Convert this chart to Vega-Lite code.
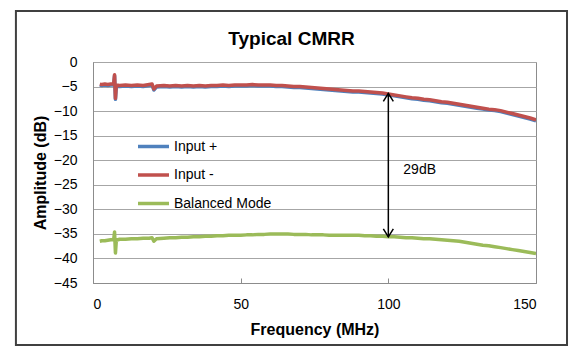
{
  "$schema": "https://vega.github.io/schema/vega-lite/v6.json",
  "width": 443,
  "height": 221,
  "autosize": {"type": "none"},
  "padding": {"left": 93, "top": 62, "right": 48, "bottom": 74},
  "background": "white",
  "title": {
    "text": "Typical CMRR",
    "font": "Liberation Sans",
    "fontSize": 19,
    "fontWeight": "bold",
    "color": "#000000",
    "anchor": "middle",
    "baseline": "alphabetic",
    "offset": -54,
    "dx": -23
  },
  "datasets": {
    "curves": [
      {"f": 2.3, "Input +": -4.7, "Input -": -4.5, "Balanced Mode": -36.5},
      {"f": 3, "Input +": -4.8, "Input -": -4.6, "Balanced Mode": -36.4},
      {"f": 4, "Input +": -4.7, "Input -": -4.5, "Balanced Mode": -36.4},
      {"f": 5, "Input +": -4.8, "Input -": -4.6, "Balanced Mode": -36.3},
      {"f": 6, "Input +": -4.7, "Input -": -4.5, "Balanced Mode": -36.2},
      {"f": 7, "Input +": -4.7, "Input -": -4.5, "Balanced Mode": -36.2},
      {"f": 7.3, "Input +": -2.8, "Input -": -2.6, "Balanced Mode": -34.6},
      {"f": 7.6, "Input +": -7.6, "Input -": -7.4, "Balanced Mode": -38.9},
      {"f": 7.9, "Input +": -4.9, "Input -": -4.7, "Balanced Mode": -36.3},
      {"f": 9, "Input +": -5.0, "Input -": -4.8, "Balanced Mode": -36.1},
      {"f": 11, "Input +": -4.9, "Input -": -4.7, "Balanced Mode": -36.1},
      {"f": 13, "Input +": -5.0, "Input -": -4.8, "Balanced Mode": -36.0},
      {"f": 15, "Input +": -4.9, "Input -": -4.7, "Balanced Mode": -36.0},
      {"f": 17, "Input +": -5.0, "Input -": -4.8, "Balanced Mode": -35.9},
      {"f": 19, "Input +": -4.8, "Input -": -4.6, "Balanced Mode": -35.9},
      {"f": 20, "Input +": -4.7, "Input -": -4.5, "Balanced Mode": -35.8},
      {"f": 20.6, "Input +": -5.7, "Input -": -5.5, "Balanced Mode": -36.5},
      {"f": 21.5, "Input +": -5.1, "Input -": -4.9, "Balanced Mode": -36.0},
      {"f": 24, "Input +": -5.0, "Input -": -4.8, "Balanced Mode": -35.9},
      {"f": 26, "Input +": -5.1, "Input -": -4.9, "Balanced Mode": -35.8},
      {"f": 28, "Input +": -5.0, "Input -": -4.8, "Balanced Mode": -35.8},
      {"f": 30, "Input +": -5.1, "Input -": -4.9, "Balanced Mode": -35.7},
      {"f": 32, "Input +": -5.0, "Input -": -4.8, "Balanced Mode": -35.7},
      {"f": 34, "Input +": -5.1, "Input -": -4.9, "Balanced Mode": -35.6},
      {"f": 36, "Input +": -5.0, "Input -": -4.8, "Balanced Mode": -35.6},
      {"f": 38, "Input +": -5.1, "Input -": -4.9, "Balanced Mode": -35.5},
      {"f": 40, "Input +": -5.0, "Input -": -4.8, "Balanced Mode": -35.5},
      {"f": 42, "Input +": -5.0, "Input -": -4.8, "Balanced Mode": -35.4},
      {"f": 44, "Input +": -4.9, "Input -": -4.7, "Balanced Mode": -35.4},
      {"f": 46, "Input +": -5.0, "Input -": -4.8, "Balanced Mode": -35.3},
      {"f": 48, "Input +": -4.9, "Input -": -4.7, "Balanced Mode": -35.3},
      {"f": 50, "Input +": -4.9, "Input -": -4.7, "Balanced Mode": -35.3},
      {"f": 52, "Input +": -4.9, "Input -": -4.7, "Balanced Mode": -35.2},
      {"f": 54, "Input +": -4.8, "Input -": -4.6, "Balanced Mode": -35.2},
      {"f": 56, "Input +": -4.9, "Input -": -4.7, "Balanced Mode": -35.1},
      {"f": 58, "Input +": -4.9, "Input -": -4.7, "Balanced Mode": -35.1},
      {"f": 60, "Input +": -4.9, "Input -": -4.7, "Balanced Mode": -35.0},
      {"f": 62, "Input +": -5.0, "Input -": -4.8, "Balanced Mode": -35.0},
      {"f": 64, "Input +": -5.0, "Input -": -4.8, "Balanced Mode": -35.0},
      {"f": 66, "Input +": -5.1, "Input -": -4.9, "Balanced Mode": -35.0},
      {"f": 68, "Input +": -5.2, "Input -": -5.0, "Balanced Mode": -35.1},
      {"f": 70, "Input +": -5.2, "Input -": -5.0, "Balanced Mode": -35.1},
      {"f": 72, "Input +": -5.3, "Input -": -5.1, "Balanced Mode": -35.1},
      {"f": 74, "Input +": -5.4, "Input -": -5.2, "Balanced Mode": -35.2},
      {"f": 76, "Input +": -5.5, "Input -": -5.3, "Balanced Mode": -35.2},
      {"f": 78, "Input +": -5.6, "Input -": -5.4, "Balanced Mode": -35.2},
      {"f": 80, "Input +": -5.7, "Input -": -5.5, "Balanced Mode": -35.3},
      {"f": 82, "Input +": -5.8, "Input -": -5.6, "Balanced Mode": -35.3},
      {"f": 84, "Input +": -5.9, "Input -": -5.7, "Balanced Mode": -35.3},
      {"f": 86, "Input +": -6.0, "Input -": -5.8, "Balanced Mode": -35.3},
      {"f": 88, "Input +": -6.1, "Input -": -5.9, "Balanced Mode": -35.3},
      {"f": 90, "Input +": -6.1, "Input -": -5.9, "Balanced Mode": -35.3},
      {"f": 92, "Input +": -6.2, "Input -": -6.0, "Balanced Mode": -35.4},
      {"f": 94, "Input +": -6.3, "Input -": -6.1, "Balanced Mode": -35.4},
      {"f": 96, "Input +": -6.4, "Input -": -6.2, "Balanced Mode": -35.5},
      {"f": 98, "Input +": -6.5, "Input -": -6.3, "Balanced Mode": -35.5},
      {"f": 100, "Input +": -6.7, "Input -": -6.5, "Balanced Mode": -35.6},
      {"f": 102, "Input +": -6.9, "Input -": -6.7, "Balanced Mode": -35.6},
      {"f": 104, "Input +": -7.1, "Input -": -6.9, "Balanced Mode": -35.7},
      {"f": 106, "Input +": -7.3, "Input -": -7.1, "Balanced Mode": -35.8},
      {"f": 108, "Input +": -7.5, "Input -": -7.3, "Balanced Mode": -35.8},
      {"f": 110, "Input +": -7.6, "Input -": -7.4, "Balanced Mode": -35.9},
      {"f": 112, "Input +": -7.8, "Input -": -7.6, "Balanced Mode": -36.0},
      {"f": 114, "Input +": -7.9, "Input -": -7.7, "Balanced Mode": -36.0},
      {"f": 116, "Input +": -8.1, "Input -": -7.9, "Balanced Mode": -36.1},
      {"f": 118, "Input +": -8.3, "Input -": -8.1, "Balanced Mode": -36.2},
      {"f": 120, "Input +": -8.4, "Input -": -8.2, "Balanced Mode": -36.3},
      {"f": 122, "Input +": -8.6, "Input -": -8.4, "Balanced Mode": -36.4},
      {"f": 124, "Input +": -8.8, "Input -": -8.6, "Balanced Mode": -36.5},
      {"f": 126, "Input +": -9.0, "Input -": -8.8, "Balanced Mode": -36.7},
      {"f": 128, "Input +": -9.2, "Input -": -9.0, "Balanced Mode": -36.9},
      {"f": 130, "Input +": -9.4, "Input -": -9.2, "Balanced Mode": -37.1},
      {"f": 132, "Input +": -9.6, "Input -": -9.4, "Balanced Mode": -37.3},
      {"f": 134, "Input +": -9.8, "Input -": -9.6, "Balanced Mode": -37.4},
      {"f": 136, "Input +": -9.9, "Input -": -9.7, "Balanced Mode": -37.6},
      {"f": 138, "Input +": -10.1, "Input -": -9.9, "Balanced Mode": -37.8},
      {"f": 140, "Input +": -10.4, "Input -": -10.2, "Balanced Mode": -38.0},
      {"f": 142, "Input +": -10.7, "Input -": -10.5, "Balanced Mode": -38.2},
      {"f": 144, "Input +": -11.0, "Input -": -10.8, "Balanced Mode": -38.4},
      {"f": 146, "Input +": -11.3, "Input -": -11.1, "Balanced Mode": -38.6},
      {"f": 148, "Input +": -11.6, "Input -": -11.4, "Balanced Mode": -38.8},
      {"f": 150, "Input +": -12.0, "Input -": -11.8, "Balanced Mode": -39.0}
    ],
    "ann": [
      {"f": 100, "top": -6.4, "bottom": -35.6, "label": "29dB", "ly": -22}
    ],
    "frame": [
      {"x1": -26.1, "x2": 160.5, "y1": 10.4, "y2": -57.6}
    ]
  },
  "layer": [
    {
      "data": {"name": "frame"},
      "mark": {"type": "rect", "fill": null, "filled": false, "stroke": "#404040", "strokeWidth": 2, "clip": false},
      "encoding": {
        "x": {"field": "x1", "type": "quantitative", "scale": {"domain": [0, 150], "nice": false}, "title": "Frequency (MHz)"},
        "x2": {"field": "x2"},
        "y": {"field": "y1", "type": "quantitative", "scale": {"domain": [-45, 0], "nice": false}, "title": "Amplitude (dB)"},
        "y2": {"field": "y2"}
      }
    },
    {
      "data": {"name": "curves"},
      "transform": [{"fold": ["Input +", "Input -", "Balanced Mode"], "as": ["series", "amp"]}],
      "mark": {"type": "line", "strokeWidth": 3.5, "clip": true, "strokeJoin": "round", "strokeCap": "butt"},
      "encoding": {
        "x": {
          "field": "f", "type": "quantitative",
          "scale": {"domain": [0, 150], "nice": false},
          "title": "Frequency (MHz)"
        },
        "y": {
          "field": "amp", "type": "quantitative",
          "scale": {"domain": [-45, 0], "nice": false},
          "title": "Amplitude (dB)"
        },
        "color": {
          "field": "series", "type": "nominal",
          "scale": {"domain": ["Input +", "Input -", "Balanced Mode"], "range": ["#4F81BD", "#C0504D", "#9BBB59"]},
          "legend": {
            "title": null,
            "orient": "none",
            "legendX": 43,
            "legendY": 67,
            "symbolType": "stroke",
            "symbolSize": 961,
            "symbolStrokeWidth": 3.5,
            "labelFont": "Liberation Sans",
            "labelFontSize": 14,
            "labelColor": "#000000",
            "labelOffset": 3,
            "rowPadding": 3.5
          }
        }
      }
    },
    {
      "data": {"name": "ann"},
      "mark": {"type": "rule", "color": "#000000", "strokeWidth": 1.5},
      "encoding": {
        "x": {"field": "f", "type": "quantitative", "title": "Frequency (MHz)"},
        "y": {"field": "top", "type": "quantitative", "title": "Amplitude (dB)"},
        "y2": {"field": "bottom"}
      }
    },
    {
      "data": {"name": "ann"},
      "mark": {"type": "point", "shape": "M -1 1.6 L 0 0 L 1 1.6", "size": 100, "filled": false, "stroke": "#000000", "strokeWidth": 1.5, "opacity": 1},
      "encoding": {
        "x": {"field": "f", "type": "quantitative", "title": "Frequency (MHz)"},
        "y": {"field": "top", "type": "quantitative", "title": "Amplitude (dB)"}
      }
    },
    {
      "data": {"name": "ann"},
      "mark": {"type": "point", "shape": "M -1 -1.6 L 0 0 L 1 -1.6", "size": 100, "filled": false, "stroke": "#000000", "strokeWidth": 1.5, "opacity": 1},
      "encoding": {
        "x": {"field": "f", "type": "quantitative", "title": "Frequency (MHz)"},
        "y": {"field": "bottom", "type": "quantitative", "title": "Amplitude (dB)"}
      }
    },
    {
      "data": {"name": "ann"},
      "mark": {"type": "text", "align": "left", "baseline": "middle", "dx": 15, "font": "Liberation Sans", "fontSize": 14, "color": "#000000"},
      "encoding": {
        "x": {"field": "f", "type": "quantitative", "title": "Frequency (MHz)"},
        "y": {"field": "ly", "type": "quantitative", "title": "Amplitude (dB)"},
        "text": {"field": "label"}
      }
    }
  ],
  "config": {
    "view": {"stroke": "#8c8c8c", "strokeWidth": 1},
    "axis": {
      "labelFont": "Liberation Sans",
      "labelFontSize": 14,
      "labelColor": "#000000",
      "titleFont": "Liberation Sans",
      "titleFontSize": 16,
      "titleFontWeight": "bold",
      "titleColor": "#000000",
      "domainColor": "#8c8c8c",
      "domainWidth": 1,
      "gridColor": "#a6a6a6",
      "gridWidth": 1,
      "labelOverlap": false
    },
    "axisX": {
      "tickCount": 3,
      "grid": false,
      "ticks": true,
      "tickSize": -5,
      "tickColor": "#8c8c8c",
      "labelPadding": 19,
      "titleX": 221.5,
      "titleY": 46,
      "titleBaseline": "middle",
      "titleAlign": "center"
    },
    "axisY": {
      "tickCount": 9,
      "grid": true,
      "ticks": false,
      "tickSize": 0,
      "labelPadding": 16,
      "labelBound": false,
      "labelFlush": false,
      "titleAngle": -90,
      "titleX": -53,
      "titleY": 110.5,
      "titleBaseline": "middle",
      "titleAlign": "center"
    }
  }
}
